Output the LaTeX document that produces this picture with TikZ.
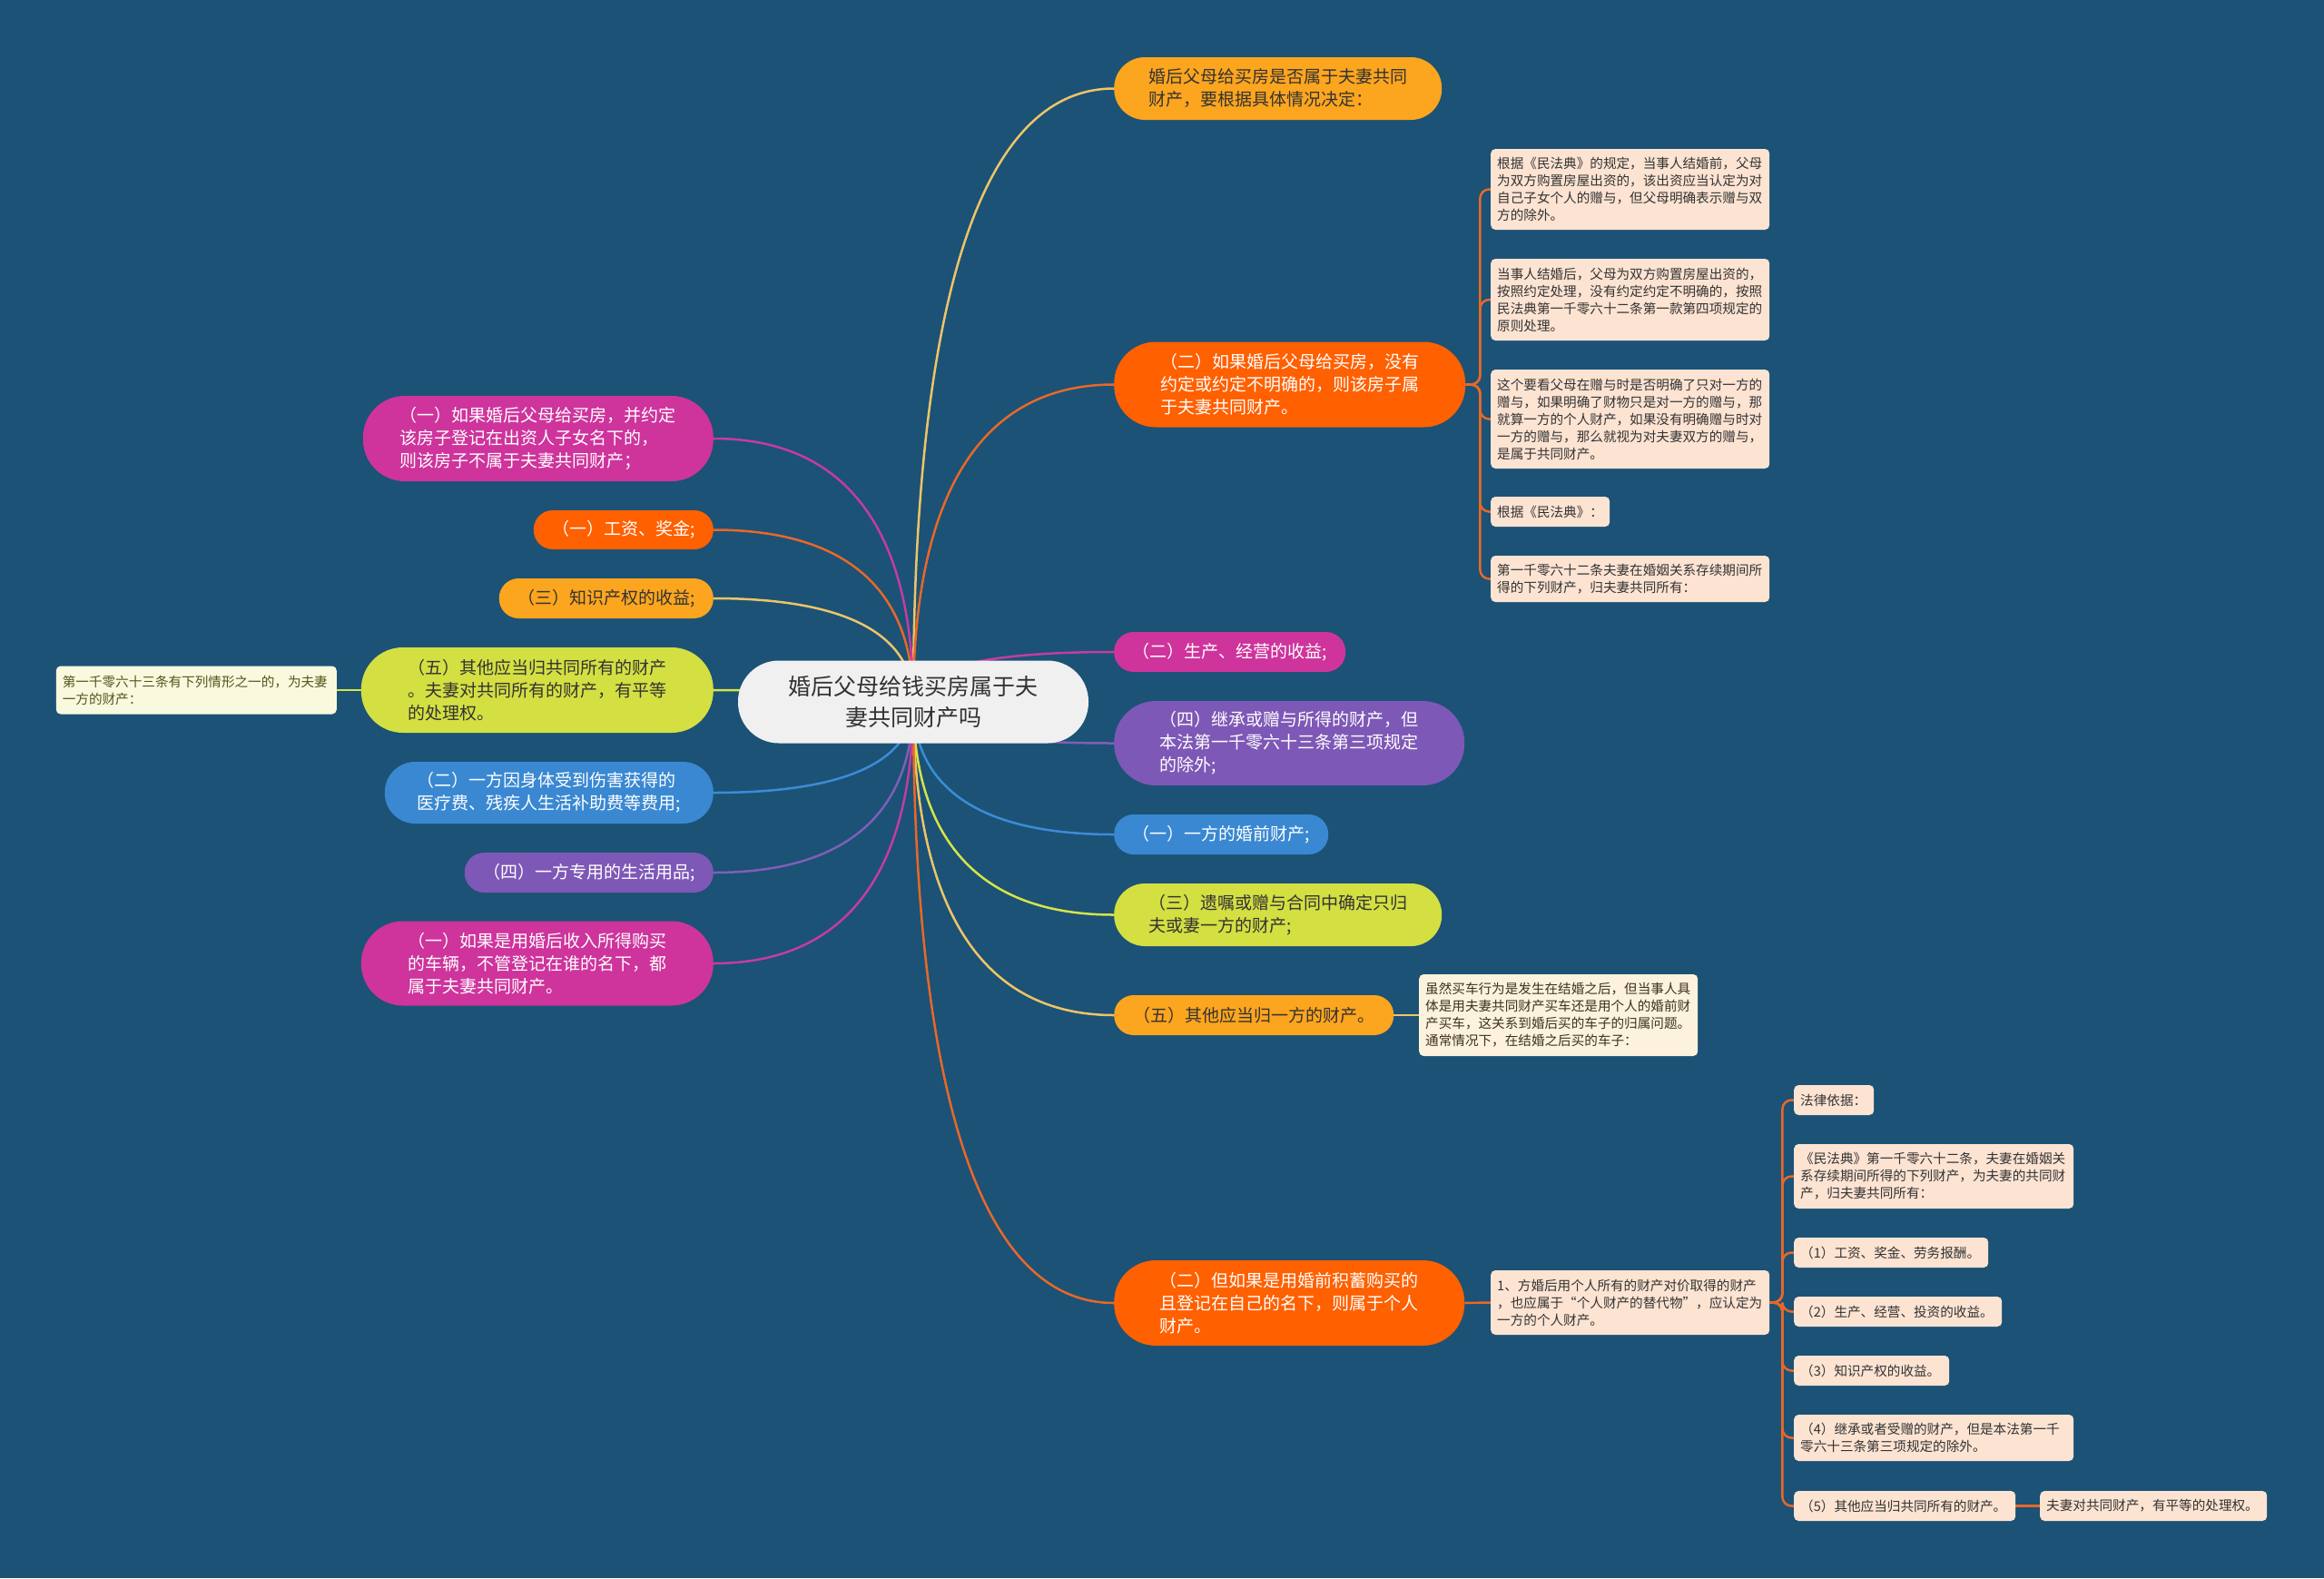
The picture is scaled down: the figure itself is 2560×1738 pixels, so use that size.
\documentclass[tikz,border=0pt]{standalone}
\usepackage{fontspec}
\setmainfont{Noto Sans CJK SC}
\usetikzlibrary{calc}
\pgfdeclarelayer{bglayer}
\pgfdeclarelayer{lines}
\pgfsetlayers{bglayer,lines,main}

\definecolor{bgblue}{RGB}{27,82,118}
\definecolor{cOY}{RGB}{252,165,30}
\definecolor{cOR}{RGB}{255,96,0}
\definecolor{cMG}{RGB}{206,52,156}
\definecolor{cPU}{RGB}{126,88,182}
\definecolor{cBL}{RGB}{58,136,210}
\definecolor{cYG}{RGB}{212,223,66}
\definecolor{cRoot}{RGB}{240,240,240}
\definecolor{cPeach}{RGB}{252,227,210}
\definecolor{cCream}{RGB}{253,243,220}
\definecolor{cPale}{RGB}{249,249,222}
\definecolor{tDark}{RGB}{51,51,51}
\definecolor{tBrown}{RGB}{60,50,30}
\definecolor{tOlive}{RGB}{85,85,30}
\definecolor{lOY}{RGB}{238,196,104}
\definecolor{lOR}{RGB}{232,104,40}
\definecolor{lMG}{RGB}{196,60,160}
\definecolor{lPU}{RGB}{128,94,184}
\definecolor{lBL}{RGB}{60,140,214}
\definecolor{lYG}{RGB}{214,228,72}

\tikzset{
  pill/.style={align=left, inner sep=0pt, font={\fontsize{19}{25}\selectfont}},
  leafbox/.style 2 args={fill=cPeach, text=tDark, rounded corners=5pt, align=left,
    inner xsep=7pt, inner ysep=0pt, text width=#1pt, minimum height=#2pt,
    font={\fontsize{14.6}{19}\selectfont}},
  conn/.style={line width=2.5pt},
  spine/.style={line width=2.5pt, rounded corners=10pt}
}

\newcommand\linkR[3]{\draw[conn,#3] (#1.center) .. controls ($(#1.center)!0.5!(#1.center|-#2.west)$) and ($(#1.center|-#2.west)!0.2!(#2.west)$) .. (#2.west);}
\newcommand\linkL[3]{\draw[conn,#3] (#1.center) .. controls ($(#1.center)!0.5!(#1.center|-#2.east)$) and ($(#1.center|-#2.east)!0.2!(#2.east)$) .. (#2.east);}

\begin{document}
\begin{tikzpicture}[x=1pt,y=-1pt]
\useasboundingbox (0,0) rectangle (2560,1738);
\begin{pgfonlayer}{bglayer}
\fill[bgblue] (0,0) rectangle (2560,1738);
\end{pgfonlayer}

% root
\node[fill=cRoot, text=tDark, rounded corners=45pt, minimum width=386pt, minimum height=91pt,
  inner sep=0pt, align=center, font={\fontsize{25}{34}\selectfont}] (root) at (1006,773)
  {婚后父母给钱买房属于夫\\妻共同财产吗};

% right level-1
\node[pill, fill=cOY, text=tDark, minimum width=361pt, minimum height=69pt, rounded corners=34pt, anchor=west] (r1) at (1227,97.5)
  {婚后父母给买房是否属于夫妻共同\\财产，要根据具体情况决定：};
\node[pill, fill=cOR, text=white, minimum width=387pt, minimum height=94pt, rounded corners=46pt, anchor=west] (r2) at (1227,423.5)
  {（二）如果婚后父母给买房，没有\\约定或约定不明确的，则该房子属\\于夫妻共同财产。};
\node[pill, fill=cMG, text=white, minimum width=255pt, minimum height=44pt, rounded corners=21.5pt, anchor=west] (r3) at (1227,718)
  {（二）生产、经营的收益;};
\node[pill, fill=cPU, text=white, minimum width=386pt, minimum height=93pt, rounded corners=46pt, anchor=west] (r4) at (1227,818.5)
  {（四）继承或赠与所得的财产，但\\本法第一千零六十三条第三项规定\\的除外;};
\node[pill, fill=cBL, text=white, minimum width=236pt, minimum height=44pt, rounded corners=21.5pt, anchor=west] (r5) at (1227,919)
  {（一）一方的婚前财产;};
\node[pill, fill=cYG, text=tDark, minimum width=361pt, minimum height=69pt, rounded corners=34pt, anchor=west] (r6) at (1227,1007.5)
  {（三）遗嘱或赠与合同中确定只归\\夫或妻一方的财产;};
\node[pill, fill=cOY, text=tDark, minimum width=308pt, minimum height=44pt, rounded corners=21.5pt, anchor=west] (r7) at (1227,1118)
  {（五）其他应当归一方的财产。};
\node[pill, fill=cOR, text=white, minimum width=386pt, minimum height=94pt, rounded corners=46pt, anchor=west] (r8) at (1227,1435)
  {（二）但如果是用婚前积蓄购买的\\且登记在自己的名下，则属于个人\\财产。};

% left level-1
\node[pill, fill=cMG, text=white, minimum width=386pt, minimum height=94pt, rounded corners=46pt, anchor=east] (l1) at (786,483)
  {（一）如果婚后父母给买房，并约定\\该房子登记在出资人子女名下的，\\则该房子不属于夫妻共同财产；};
\node[pill, fill=cOR, text=white, minimum width=198pt, minimum height=43pt, rounded corners=21pt, anchor=east] (l2) at (786,583.5)
  {（一）工资、奖金;};
\node[pill, fill=cOY, text=tDark, minimum width=236pt, minimum height=44pt, rounded corners=21.5pt, anchor=east] (l3) at (786,659)
  {（三）知识产权的收益;};
\node[pill, fill=cYG, text=tDark, minimum width=388pt, minimum height=94pt, rounded corners=46pt, anchor=east] (l4) at (786,760)
  {（五）其他应当归共同所有的财产\\。夫妻对共同所有的财产，有平等\\的处理权。};
\node[pill, fill=cBL, text=white, minimum width=362pt, minimum height=68pt, rounded corners=33.5pt, anchor=east] (l5) at (786,873)
  {（二）一方因身体受到伤害获得的\\医疗费、残疾人生活补助费等费用;};
\node[pill, fill=cPU, text=white, minimum width=274pt, minimum height=44pt, rounded corners=21.5pt, anchor=east] (l6) at (786,961)
  {（四）一方专用的生活用品;};
\node[pill, fill=cMG, text=white, minimum width=388pt, minimum height=93pt, rounded corners=46pt, anchor=east] (l7) at (786,1061)
  {（一）如果是用婚后收入所得购买\\的车辆，不管登记在谁的名下，都\\属于夫妻共同财产。};

% leaves upper right
\node[leafbox={293}{89}, anchor=west] (la) at (1642,208.5)
  {根据《民法典》的规定，当事人结婚前，父母\\为双方购置房屋出资的，该出资应当认定为对\\自己子女个人的赠与，但父母明确表示赠与双\\方的除外。};
\node[leafbox={293}{90}, anchor=west] (lb) at (1642,330)
  {当事人结婚后，父母为双方购置房屋出资的，\\按照约定处理，没有约定约定不明确的，按照\\民法典第一千零六十二条第一款第四项规定的\\原则处理。};
\node[leafbox={293}{109}, anchor=west] (lc) at (1642,461.5)
  {这个要看父母在赠与时是否明确了只对一方的\\赠与，如果明确了财物只是对一方的赠与，那\\就算一方的个人财产，如果没有明确赠与时对\\一方的赠与，那么就视为对夫妻双方的赠与，\\是属于共同财产。};
\node[leafbox={117}{33}, anchor=west] (ld) at (1642,563.5)
  {根据《民法典》：};
\node[leafbox={293}{51}, anchor=west] (le) at (1642,637.5)
  {第一千零六十二条夫妻在婚姻关系存续期间所\\得的下列财产，归夫妻共同所有：};

% cream leaf
\node[leafbox={293}{90}, fill=cCream, text=tBrown, anchor=west] (cr) at (1563,1118)
  {虽然买车行为是发生在结婚之后，但当事人具\\体是用夫妻共同财产买车还是用个人的婚前财\\产买车，这关系到婚后买的车子的归属问题。\\通常情况下，在结婚之后买的车子：};

% pale leaf left
\node[leafbox={295}{53}, fill=cPale, text=tOlive, anchor=east] (pl) at (371,760)
  {第一千零六十三条有下列情形之一的，为夫妻\\一方的财产：};

% bottom right group
\node[leafbox={293}{71}, anchor=west] (b1) at (1642,1434.5)
  {1、方婚后用个人所有的财产对价取得的财产\\，也应属于“个人财产的替代物”，应认定为\\一方的个人财产。};
\node[leafbox={74}{33}, anchor=west] (s1) at (1976,1211.5) {法律依据：};
\node[leafbox={294}{71}, anchor=west] (s2) at (1976,1295.5)
  {《民法典》第一千零六十二条，夫妻在婚姻关\\系存续期间所得的下列财产，为夫妻的共同财\\产，归夫妻共同所有：};
\node[leafbox={200}{33}, anchor=west] (s3) at (1976,1379.5) {（1）工资、奖金、劳务报酬。};
\node[leafbox={215}{33}, anchor=west] (s4) at (1976,1444.5) {（2）生产、经营、投资的收益。};
\node[leafbox={157}{33}, anchor=west] (s5) at (1976,1509.5) {（3）知识产权的收益。};
\node[leafbox={294}{51}, anchor=west] (s6) at (1976,1583.5)
  {（4）继承或者受赠的财产，但是本法第一千\\零六十三条第三项规定的除外。};
\node[leafbox={230}{33}, anchor=west] (s7) at (1976,1658.5) {（5）其他应当归共同所有的财产。};
\node[leafbox={236}{33}, anchor=west] (s8) at (2247,1658.5) {夫妻对共同财产，有平等的处理权。};

% connectors
\begin{pgfonlayer}{lines}
\linkR{root}{r1}{lOY}
\linkR{root}{r2}{lOR}
\linkR{root}{r3}{lMG}
\linkR{root}{r4}{lPU}
\linkR{root}{r5}{lBL}
\linkR{root}{r6}{lYG}
\linkR{root}{r7}{lOY}
\linkR{root}{r8}{lOR}
\linkL{root}{l1}{lMG}
\linkL{root}{l2}{lOR}
\linkL{root}{l3}{lOY}
\linkL{root}{l4}{lYG}
\linkL{root}{l5}{lBL}
\linkL{root}{l6}{lPU}
\linkL{root}{l7}{lMG}

\foreach \t in {la,lb,lc,ld,le}
  \draw[spine,lOR] (r2.east) -- ++(16,0) |- (\t.west);
\draw[conn,lOY] (r7.east) -- (cr.west);
\draw[conn,lYG] (l4.west) -- (pl.east);
\draw[conn,lOR] (r8.east) -- (b1.west);
\foreach \t in {s1,s2,s3,s4,s5,s6,s7}
  \draw[spine,lOR] (b1.east) -- ++(14,0) |- (\t.west);
\draw[conn,lOR] (s7.east) -- (s8.west);
\end{pgfonlayer}
\end{tikzpicture}
\end{document}
